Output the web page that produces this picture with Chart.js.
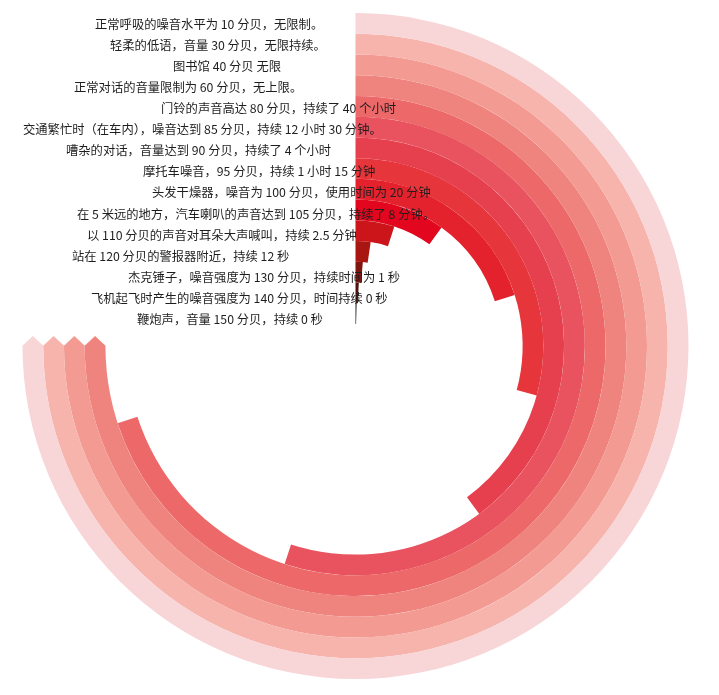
<!DOCTYPE html>
<html lang="zh">
<head>
<meta charset="UTF-8" />
<title>噪音强度与安全时长</title>
<script src="https://cdn.jsdelivr.net/npm/chart.js"></script>
<style>
  html, body { margin: 0; padding: 0; background: #fff; }
  #wrap { width: 719px; height: 695px; }
</style>
</head>
<body>
<div id="wrap"><canvas id="chart" width="719" height="695"></canvas></div>
<script>
// one ring per noise source, outermost first
const labels = [
	"正常呼吸的噪音水平为 10 分贝，无限制。",
	"轻柔的低语，音量 30 分贝，无限持续。",
	"图书馆 40 分贝 无限",
	"正常对话的音量限制为 60 分贝，无上限。",
	"门铃的声音高达 80 分贝，持续了 40 个小时",
	"交通繁忙时（在车内），噪音达到 85 分贝，持续 12 小时 30 分钟。",
	"嘈杂的对话，音量达到 90 分贝，持续了 4 个小时",
	"摩托车噪音，95 分贝，持续 1 小时 15 分钟",
	"头发干燥器，噪音为 100 分贝，使用时间为 20 分钟",
	"在 5 米远的地方，汽车喇叭的声音达到 105 分贝，持续了 8 分钟。",
	"以 110 分贝的声音对耳朵大声喊叫，持续 2.5 分钟",
	"站在 120 分贝的警报器附近，持续 12 秒",
	"杰克锤子，噪音强度为 130 分贝，持续时间为 1 秒",
	"飞机起飞时产生的噪音强度为 140 分贝，时间持续 0 秒",
	"鞭炮声，音量 150 分贝，持续 0 秒",
];

// sweep of each ring, degrees clockwise from 12 o'clock
const sweepDeg = [270, 270, 270, 270, 252, 198, 143.6, 105.3, 72.2, 36, 18, 8.3, 5, 3, 1.5];

// rings with no time limit get an arrow tip
const noLimit = [true, true, true, true, false, false, false, false, false, false, false, false, false, false, false];

const ringColors = [
	"#f8d5d6", "#f6b4ac", "#f39a92", "#ef837d", "#ec6869",
	"#e9525f", "#e6404e", "#e6353b", "#e4222d", "#e2071e",
	"#cc151b", "#a91612", "#80140e", "#4f120c", "#1a1a1a",
];

// layout of the text column (left edge of each label)
const labelX = [95, 110, 173, 74, 161, 23, 66, 143, 152, 77, 87, 72, 128, 91, 137];
const labelTop = 24;
const labelStep = 21.1;

const arrowTips = {
	id: "arrowTips",
	afterDatasetsDraw(chart) {
		const ctx = chart.ctx;
		ctx.save();
		noLimit.forEach((flag, i) => {
			if (!flag) return;
			const arc = chart.getDatasetMeta(i).data[0];
			const { x, y, endAngle, innerRadius, outerRadius } = arc.getProps(
				["x", "y", "endAngle", "innerRadius", "outerRadius"],
				true
			);
			const cos = Math.cos(endAngle);
			const sin = Math.sin(endAngle);
			const mid = (innerRadius + outerRadius) / 2;
			const tipLen = 10;
			ctx.beginPath();
			ctx.moveTo(x + (outerRadius + 0.3) * cos, y + (outerRadius + 0.3) * sin);
			ctx.lineTo(x + mid * cos - tipLen * sin, y + mid * sin + tipLen * cos);
			ctx.lineTo(x + (innerRadius - 0.3) * cos, y + (innerRadius - 0.3) * sin);
			ctx.closePath();
			ctx.fillStyle = ringColors[i];
			ctx.fill();
		});
		ctx.restore();
	},
};

const ringLabels = {
	id: "ringLabels",
	afterDraw(chart) {
		const ctx = chart.ctx;
		ctx.save();
		ctx.font = '12.3px "Noto Sans CJK SC", "Noto Sans", sans-serif';
		ctx.fillStyle = "#1e1e1e";
		ctx.textAlign = "left";
		ctx.textBaseline = "middle";
		labels.forEach((text, i) => {
			ctx.fillText(text, labelX[i], labelTop + i * labelStep);
		});
		ctx.restore();
	},
};

new Chart(document.getElementById("chart"), {
	type: "doughnut",
	data: {
		labels: ["duration", "rest"],
		datasets: sweepDeg.map((deg, i) => ({
			label: labels[i],
			data: [deg, 360 - deg],
			backgroundColor: [ringColors[i], "rgba(0,0,0,0)"],
			borderWidth: 0,
		})),
	},
	options: {
		responsive: false,
		animation: false,
		events: [],
		cutout: 22,
		rotation: 0,
		circumference: 360,
		layout: { padding: { left: 22.5, right: 30.5, top: 13, bottom: 16 } },
		plugins: {
			legend: { display: false },
			tooltip: { enabled: false },
		},
	},
	plugins: [arrowTips, ringLabels],
});
</script>
</body>
</html>
